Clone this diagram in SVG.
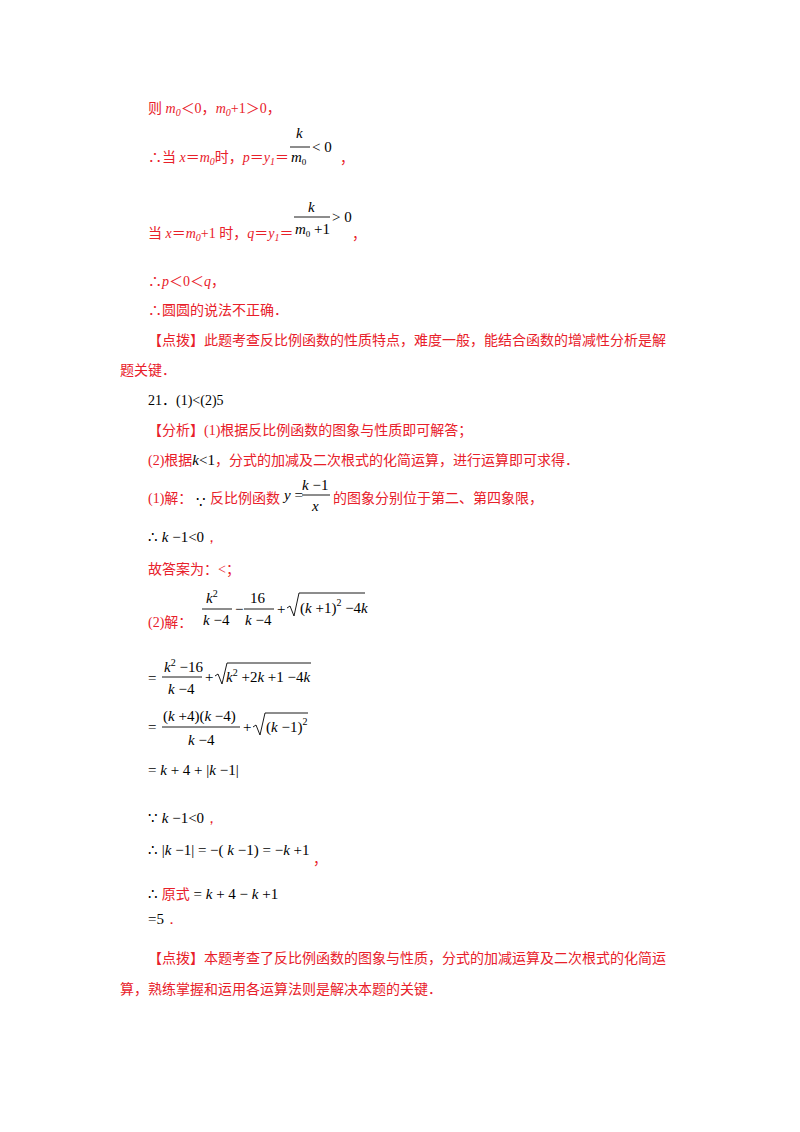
<svg xmlns="http://www.w3.org/2000/svg" width="800" height="1132" viewBox="0 0 800 1132">
<style>
text{font-family:"Liberation Serif","Noto Sans CJK SC",serif;font-size:14px}
.r{fill:#e8202a}
.b{fill:#000}
.m{font-family:"Liberation Serif",serif;fill:#000;font-size:15px}
.i{font-style:italic}
.bar{stroke:#000;stroke-width:0.9}
</style>
<rect width="800" height="1132" fill="#fff"/>
<text x="148" y="113" class="r">则 <tspan class="i">m<tspan font-size="10" dy="3">0</tspan></tspan><tspan dy="-3">＜0，</tspan><tspan class="i">m<tspan font-size="10" dy="3">0</tspan></tspan><tspan dy="-3">+1＞0，</tspan></text>
<text x="148" y="162" class="r">∴当 <tspan class="i">x</tspan>＝<tspan class="i">m<tspan font-size="10" dy="3">0</tspan></tspan><tspan dy="-3">时，</tspan><tspan class="i">p</tspan>＝<tspan class="i">y<tspan font-size="10" dy="3">1</tspan></tspan><tspan dy="-3">＝</tspan></text>
<text x="296" y="138" class="m i">k</text>
<line x1="290" y1="147" x2="310" y2="147" class="bar"/>
<text x="291" y="162" class="m" font-size="13"><tspan class="i">m</tspan><tspan font-size="9" dy="3">0</tspan></text>
<text x="312" y="152" class="m">&lt; 0</text>
<text x="340" y="163" class="r">，</text>
<text x="148" y="238" class="r">当 <tspan class="i">x</tspan>＝<tspan class="i">m<tspan font-size="10" dy="3">0</tspan></tspan><tspan dy="-3">+1 时，</tspan><tspan class="i">q</tspan>＝<tspan class="i">y<tspan font-size="10" dy="3">1</tspan></tspan><tspan dy="-3">＝</tspan></text>
<text x="308" y="212" class="m i">k</text>
<line x1="294" y1="217" x2="330" y2="217" class="bar"/>
<text x="295" y="234" class="m" font-size="13"><tspan class="i">m</tspan><tspan font-size="9" dy="3">0</tspan><tspan dy="-3"> +1</tspan></text>
<text x="332" y="222" class="m">&gt; 0</text>
<text x="352" y="239" class="r">，</text>
<text x="148" y="286" class="r">∴<tspan class="i">p</tspan>＜0＜<tspan class="i">q</tspan>，</text>
<text x="148" y="315" class="r">∴圆圆的说法不正确．</text>
<text x="148" y="345" class="r">【点拨】此题考查反比例函数的性质特点，难度一般，能结合函数的增减性分析是解</text>
<text x="120" y="375" class="r">题关键．</text>
<text x="148" y="405" class="b">21．(1)&lt;(2)5</text>
<text x="148" y="435" class="r">【分析】(1)根据反比例函数的图象与性质即可解答；</text>
<text x="148" y="465" class="r">(2)根据<tspan class="m i">k</tspan><tspan class="m">&lt;1</tspan>，分式的加减及二次根式的化简运算，进行运算即可求得．</text>
<text x="148" y="503" class="r">(1)解：</text>
<text x="196" y="507" class="m" font-size="13">∵</text>
<text x="210" y="503" class="r">反比例函数</text>
<text x="284" y="500" class="m"><tspan class="i">y</tspan> =</text>
<text x="302" y="490" class="m"><tspan class="i">k</tspan> −1</text>
<line x1="302" y1="495" x2="330" y2="495" class="bar"/>
<text x="312" y="511" class="m i">x</text>
<text x="333" y="503" class="r">的图象分别位于第二、第四象限，</text>
<text x="148" y="542" class="m">∴ <tspan class="i">k</tspan> −1&lt;0<tspan class="r">，</tspan></text>
<text x="148" y="574" class="r">故答案为：&lt;；</text>
<text x="148" y="627" class="r">(2)解：</text>
<text x="206" y="603" class="m"><tspan class="i">k</tspan><tspan font-size="10" dy="-6">2</tspan></text>
<line x1="202" y1="609" x2="232" y2="609" class="bar"/>
<text x="203" y="625" class="m"><tspan class="i">k</tspan> −4</text>
<text x="235" y="614" class="m">−</text>
<text x="250" y="603" class="m">16</text>
<line x1="244" y1="609" x2="274" y2="609" class="bar"/>
<text x="245" y="625" class="m"><tspan class="i">k</tspan> −4</text>
<text x="277" y="614" class="m">+</text>
<path d="M287 608 l3 -2 l4 10 l5 -23 h66" fill="none" stroke="#000" stroke-width="0.9"/>
<text x="300" y="613" class="m">(<tspan class="i">k</tspan> +1)<tspan font-size="10" dy="-7">2</tspan><tspan dy="7"> −4</tspan><tspan class="i">k</tspan></text>
<text x="148" y="683" class="m">=</text>
<text x="164" y="672" class="m"><tspan class="i">k</tspan><tspan font-size="10" dy="-6">2</tspan><tspan dy="6"> −16</tspan></text>
<line x1="162" y1="677" x2="202" y2="677" class="bar"/>
<text x="168" y="694" class="m"><tspan class="i">k</tspan> −4</text>
<text x="205" y="682" class="m">+</text>
<path d="M215 676 l3 -2 l4 10 l5 -21 h84" fill="none" stroke="#000" stroke-width="0.9"/>
<text x="226" y="682" class="m"><tspan class="i">k</tspan><tspan font-size="10" dy="-6">2</tspan><tspan dy="6"> +2</tspan><tspan class="i">k</tspan> +1 −4<tspan class="i">k</tspan></text>
<text x="148" y="732" class="m">=</text>
<text x="163" y="721" class="m">(<tspan class="i">k</tspan> +4)(<tspan class="i">k</tspan> −4)</text>
<line x1="162" y1="727" x2="240" y2="727" class="bar"/>
<text x="188" y="745" class="m"><tspan class="i">k</tspan> −4</text>
<text x="243" y="732" class="m">+</text>
<path d="M253 727 l3 -2 l4 10 l5 -22 h43" fill="none" stroke="#000" stroke-width="0.9"/>
<text x="266" y="732" class="m">(<tspan class="i">k</tspan> −1)<tspan font-size="10" dy="-7">2</tspan></text>
<text x="148" y="775" class="m">= <tspan class="i">k</tspan> + 4 + |<tspan class="i">k</tspan> −1|</text>
<text x="148" y="823" class="m">∵ <tspan class="i">k</tspan> −1&lt;0<tspan class="r">，</tspan></text>
<text x="148" y="855" class="m">∴ |<tspan class="i">k</tspan> −1| = −( <tspan class="i">k</tspan> −1) = −<tspan class="i">k</tspan> +1</text>
<text x="313" y="864" class="r">，</text>
<text x="148" y="899" class="m">∴ <tspan class="r" font-family="Noto Sans CJK SC" font-size="14">原式</tspan> = <tspan class="i">k</tspan> + 4 − <tspan class="i">k</tspan> +1</text>
<text x="148" y="924" class="m">=5<tspan class="r">．</tspan></text>
<text x="148" y="963" class="r">【点拨】本题考查了反比例函数的图象与性质，分式的加减运算及二次根式的化简运</text>
<text x="120" y="994" class="r">算，熟练掌握和运用各运算法则是解决本题的关键．</text>
</svg>
